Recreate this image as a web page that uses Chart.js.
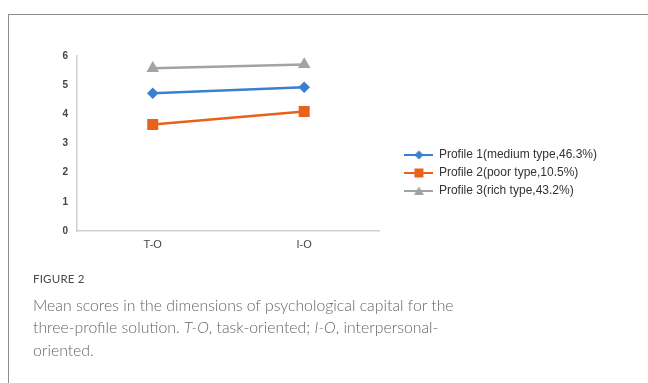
<!DOCTYPE html>
<html>
<head>
<meta charset="utf-8">
<script src="https://cdn.jsdelivr.net/npm/chart.js@4"></script>
<style>
  body { margin: 0; background: #fff; width: 648px; height: 383px; overflow: hidden; position: relative; }
  .frame { position: absolute; left: 8px; top: 14px; width: 700px; height: 400px; border-left: 1px solid #8c8c8c; border-top: 1px solid #8c8c8c; }
  .chartbox { position: absolute; left: 0; top: 0; width: 648px; height: 300px; }
  .fig { position: absolute; left: 33px; top: 272px; font-family: Lato, sans-serif; font-size: 11.5px; color: #4a4a4a; letter-spacing: 0.2px; }
  .cap { position: absolute; left: 33px; top: 294px; width: 600px; font-family: Lato, sans-serif; font-weight: 300; font-size: 15.8px; line-height: 22.3px; color: #666; }
</style>
</head>
<body>
<div class="frame"></div>
<div class="chartbox"><canvas id="figChart"></canvas></div>
<div class="fig">FIGURE 2</div>
<div class="cap">Mean scores in the dimensions of psychological capital for the<br>three-profile solution. <i>T-O</i>, task-oriented; <i>I-O</i>, interpersonal-<br>oriented.</div>
<script>
let categories = ['T-O', 'I-O'];
let profile1 = [4.72, 4.93];
let profile2 = [3.65, 4.1];
let profile3 = [5.58, 5.71];
let seriesNames = ['Profile 1(medium type,46.3%)', 'Profile 2(poor type,10.5%)', 'Profile 3(rich type,43.2%)'];
let yTicks = [0, 1, 2, 3, 4, 5, 6];

let blue = '#3a7fd0';
let orange = '#e8621a';
let gray = '#a3a3a3';

// legend icon: short line with the marker in the middle
function legendIcon(color, shape) {
  let c = document.createElement('canvas');
  c.width = 29; c.height = 12;
  let g = c.getContext('2d');
  g.strokeStyle = color; g.fillStyle = color; g.lineWidth = 2;
  g.beginPath(); g.moveTo(0, 6); g.lineTo(29, 6); g.stroke();
  g.beginPath();
  if (shape == 'diamond') {
    g.moveTo(14.5, 1.5); g.lineTo(19, 6); g.lineTo(14.5, 10.5); g.lineTo(10, 6);
  } else if (shape == 'square') {
    g.rect(10, 1.5, 9, 9);
  } else {
    g.moveTo(14.5, 1.5); g.lineTo(19.5, 10); g.lineTo(9.5, 10);
  }
  g.closePath(); g.fill();
  return c;
}
let icons = [legendIcon(blue, 'diamond'), legendIcon(orange, 'square'), legendIcon(gray, 'triangle')];

let ctx = document.getElementById('figChart').getContext('2d');
let figChart = new Chart(ctx, {
  type: 'line',
  data: {
    labels: categories,
    datasets: [{
      label: seriesNames[0],
      data: profile1,
      borderColor: blue,
      backgroundColor: blue,
      pointStyle: 'rectRot',
      pointRadius: 4,
      borderWidth: 2.5,
    }, {
      label: seriesNames[1],
      data: profile2,
      borderColor: orange,
      backgroundColor: orange,
      pointStyle: 'rect',
      pointRadius: 6,
      borderWidth: 2.5,
    }, {
      label: seriesNames[2],
      data: profile3,
      borderColor: gray,
      backgroundColor: gray,
      pointStyle: 'triangle',
      pointRadius: 4.8,
      borderWidth: 2.5,
    }]
  },
  options: {
    responsive: true,
    maintainAspectRatio: false,
    animation: false,
    layout: {
      padding: { top: 56, bottom: 10, left: 0, right: 41 }
    },
    plugins: {
      tooltip: { enabled: false },
      legend: {
        position: 'right',
        maxWidth: 300,
        labels: {
          usePointStyle: true,
          pointStyleWidth: 28,
          padding: 6,
          color: '#333',
          font: { family: 'Liberation Sans', size: 12 },
          generateLabels: function (chart) {
            let items = Chart.defaults.plugins.legend.labels.generateLabels(chart);
            items.forEach(function (it, i) { it.pointStyle = icons[i]; });
            return items;
          }
        }
      }
    },
    scales: {
      x: {
        offset: true,
        grid: { display: false, drawTicks: false },
        border: { color: '#d0d0d0', width: 1.5 },
        ticks: { color: '#444', padding: 7, font: { family: 'Liberation Sans', size: 11 } },
        afterFit: function (s) { s.height = 59; }
      },
      y: {
        min: 0,
        max: 6,
        afterBuildTicks: function (s) { s.ticks = yTicks.map(function (v) { return { value: v }; }); },
        grid: { display: false, drawTicks: false },
        border: { color: '#d0d0d0', width: 1.5 },
        ticks: { color: '#444', padding: 9, font: { family: 'Liberation Sans', size: 10, weight: 'bold' } },
        afterFit: function (s) { s.width = 77; }
      },
      gap: {
        position: 'right',
        grid: { display: false, drawTicks: false },
        border: { display: false },
        ticks: { display: false },
        afterFit: function (s) { s.width = 19; }
      }
    }
  }
});
</script>
</body>
</html>
